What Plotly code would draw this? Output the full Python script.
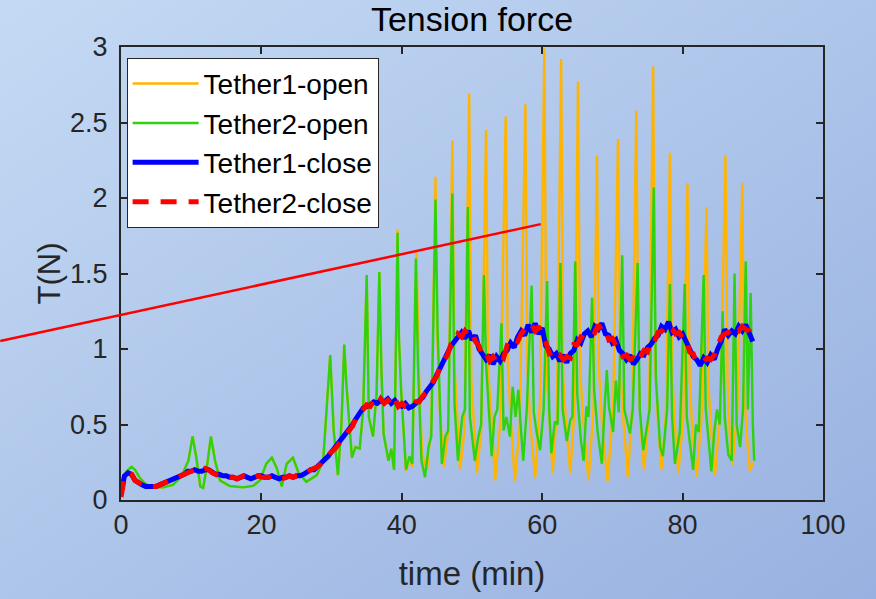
import base64
import plotly.graph_objects as go

# ---------------- data ----------------
# shared early part of both "open" tethers (they overlap until ~39 min)
t_open_early = [0.0, 0.3, 0.8, 1.5, 2.0, 2.7, 3.4, 4.1, 5.0, 6.0, 7.4, 8.6, 9.6, 10.2, 10.7,
                11.3, 11.7, 12.3, 12.8, 13.4, 14.1, 15.5, 17.4, 18.8, 19.8, 20.7, 21.5, 22.2,
                22.9, 23.6, 24.5, 25.3, 26.4, 27.9, 28.8, 29.3, 29.8, 30.3, 30.9, 31.4, 31.8,
                32.1, 32.9, 33.4, 34.0, 34.5, 35.0, 35.3, 35.9, 36.4, 36.8, 37.1, 37.4, 38.1,
                38.5, 38.9]
v_open_early = [0.12, 0.13, 0.19, 0.22, 0.20, 0.145, 0.11, 0.093, 0.085, 0.084, 0.10, 0.155,
                0.26, 0.42, 0.29, 0.09, 0.08, 0.24, 0.42, 0.26, 0.13, 0.093, 0.084, 0.093, 0.13,
                0.24, 0.28, 0.21, 0.09, 0.24, 0.28, 0.18, 0.12, 0.165, 0.26, 0.58, 0.96, 0.46,
                0.165, 0.50, 1.03, 0.77, 0.28, 0.35, 0.34, 0.60, 1.49, 0.55, 0.42, 0.70, 1.51,
                0.86, 0.44, 0.26, 0.34, 0.20]

t_open1_late = [39.4, 39.6, 39.9, 40.6, 41.1, 41.5, 42.1, 42.4, 42.9, 43.6, 44.2, 44.8, 45.0,
                45.4, 46.0, 46.6, 47.2, 47.5, 47.9, 48.3, 48.9, 49.6, 49.9, 50.3, 50.7, 51.3,
                52.0, 52.3, 52.7, 53.3, 54.0, 54.8, 55.1, 55.5, 56.1, 56.8, 57.6, 57.9, 58.3,
                59.0, 59.7, 60.3, 60.6, 61.0, 61.5, 62.1, 62.7, 63.0, 63.4, 64.0, 64.6, 65.1,
                65.4, 65.9, 66.6, 67.3, 67.8, 68.1, 68.6, 69.3, 70.1, 70.8, 71.1, 71.6, 72.2,
                72.8, 73.4, 73.7, 74.0, 74.5, 75.2, 75.8, 76.1, 76.5, 77.0, 77.6, 78.2, 78.5,
                78.9, 79.4, 80.1, 80.7, 81.0, 81.4, 82.0, 82.7, 83.4, 83.7, 84.1, 84.6, 85.4,
                86.1, 86.4, 86.7, 87.1, 87.8, 88.5, 88.8, 89.2, 89.6, 90.0]
v_open1_late = [1.79, 1.06, 0.73, 0.19, 0.28, 0.22, 1.64, 0.90, 0.30, 0.20, 0.50, 2.14, 1.16,
                0.60, 0.22, 0.45, 2.38, 0.90, 0.50, 0.20, 0.45, 2.69, 0.80, 0.45, 0.18, 0.45,
                2.45, 0.85, 0.60, 0.13, 0.50, 2.54, 0.90, 0.55, 0.12, 0.50, 2.62, 0.85, 0.50,
                0.145, 0.66, 2.99, 0.86, 0.55, 0.18, 0.60, 2.92, 0.80, 0.50, 0.18, 0.60, 2.77,
                0.85, 0.50, 0.13, 0.60, 2.28, 0.85, 0.45, 0.12, 0.60, 2.39, 0.90, 0.50, 0.15,
                0.60, 2.58, 0.90, 0.50, 0.20, 0.55, 2.87, 0.90, 0.50, 0.20, 0.55, 2.30, 0.85,
                0.50, 0.18, 0.55, 2.10, 0.80, 0.45, 0.15, 0.55, 1.94, 0.75, 0.45, 0.16, 0.60,
                2.28, 0.80, 0.45, 0.23, 0.60, 2.10, 0.70, 0.40, 0.19, 0.25]

t_open2_late = [39.4, 39.6, 39.9, 40.6, 41.1, 41.5, 42.0, 42.3, 42.8, 43.3, 43.8, 44.2, 44.8,
                45.1, 45.7, 46.2, 46.6, 47.2, 47.5, 48.0, 48.6, 49.0, 49.4, 49.7, 50.4, 50.9,
                51.3, 51.7, 52.0, 52.8, 53.2, 53.6, 54.2, 54.5, 54.9, 55.4, 55.8, 56.2, 56.6,
                57.0, 57.3, 57.8, 58.5, 58.8, 59.2, 59.7, 60.2, 60.7, 61.0, 61.3, 61.8, 62.2,
                62.6, 62.9, 63.5, 64.0, 64.3, 64.7, 65.0, 65.5, 65.9, 66.3, 66.6, 67.1, 67.4,
                67.9, 68.5, 68.9, 69.2, 69.5, 70.1, 70.5, 70.9, 71.4, 71.7, 72.5, 72.9, 73.6,
                73.9, 74.4, 74.8, 75.3, 75.9, 76.2, 76.8, 77.2, 77.8, 78.2, 78.5, 78.9, 79.6,
                80.3, 80.6, 81.5, 81.9, 82.3, 82.6, 83.0, 83.3, 84.1, 84.5, 84.9, 85.3, 85.7,
                86.0, 86.5, 87.0, 87.4, 87.7, 88.2, 88.6, 89.0, 89.3, 89.7, 90.0, 90.2]
v_open2_late = [1.77, 1.06, 0.73, 0.20, 0.29, 0.24, 1.60, 0.90, 0.26, 0.15, 0.35, 0.42, 1.99,
                1.13, 0.24, 0.42, 0.46, 2.03, 0.64, 0.26, 0.55, 0.60, 1.94, 0.55, 0.26, 0.42,
                0.50, 1.49, 0.90, 0.29, 0.55, 0.60, 1.17, 0.46, 0.55, 0.42, 0.75, 0.55, 0.73,
                0.45, 0.26, 0.60, 1.42, 0.58, 0.45, 0.33, 0.60, 1.45, 0.60, 0.31, 0.52, 0.50,
                1.57, 0.60, 0.39, 0.53, 0.55, 1.58, 0.70, 0.40, 0.26, 0.62, 0.55, 1.34, 0.73,
                0.45, 0.24, 0.62, 0.86, 0.62, 0.45, 0.79, 0.58, 1.62, 0.60, 0.44, 0.60, 1.57,
                0.60, 0.33, 0.46, 0.60, 2.07, 0.80, 0.35, 0.29, 0.60, 1.43, 0.55, 0.24, 0.45,
                1.43, 0.55, 0.20, 0.50, 0.45, 0.90, 1.49, 0.60, 0.19, 0.45, 0.60, 0.50, 1.25,
                0.55, 0.30, 0.26, 1.50, 0.50, 0.35, 0.60, 1.58, 0.60, 1.37, 0.50, 0.26]

t_close = [i * 0.5 for i in range(181)]
v_close1 = [0.05, 0.16, 0.18, 0.17, 0.13, 0.11, 0.10, 0.09, 0.09, 0.09, 0.09, 0.10, 0.11, 0.12,
            0.13, 0.14, 0.15, 0.16, 0.17, 0.19, 0.19, 0.20, 0.19, 0.19, 0.20, 0.20, 0.18, 0.17,
            0.17, 0.16, 0.16, 0.15, 0.15, 0.14, 0.15, 0.16, 0.15, 0.14, 0.15, 0.16, 0.16, 0.15,
            0.15, 0.16, 0.15, 0.14, 0.15, 0.15, 0.16, 0.15, 0.16, 0.16, 0.17, 0.19, 0.20, 0.20,
            0.22, 0.24, 0.26, 0.29, 0.32, 0.35, 0.38, 0.40, 0.43, 0.46, 0.50, 0.54, 0.57, 0.61,
            0.62, 0.63, 0.65, 0.64, 0.66, 0.65, 0.67, 0.64, 0.66, 0.63, 0.62, 0.64, 0.61, 0.62,
            0.64, 0.66, 0.68, 0.72, 0.75, 0.78, 0.83, 0.88, 0.92, 0.97, 1.02, 1.05, 1.08, 1.11,
            1.07, 1.12, 1.06, 1.09, 1.00, 0.97, 0.93, 0.96, 0.90, 0.95, 0.92, 0.97, 0.99, 1.04,
            1.01, 1.08, 1.12, 1.09, 1.16, 1.11, 1.17, 1.10, 1.14, 1.02, 1.00, 0.95, 0.97, 0.92,
            0.96, 0.91, 0.97, 0.99, 1.06, 1.04, 1.10, 1.12, 1.08, 1.15, 1.13, 1.17, 1.10, 1.09,
            1.04, 1.06, 0.99, 0.97, 0.93, 0.96, 0.90, 0.93, 0.97, 0.96, 1.01, 1.03, 1.07, 1.09,
            1.15, 1.13, 1.18, 1.11, 1.13, 1.08, 1.10, 1.05, 1.00, 0.95, 0.93, 0.89, 0.94, 0.91,
            0.96, 0.93, 1.00, 1.05, 1.13, 1.09, 1.12, 1.10, 1.15, 1.12, 1.16, 1.10, 1.05]
v_close2 = [0.02, 0.15, 0.18, 0.17, 0.13, 0.11, 0.10, 0.09, 0.09, 0.09, 0.09, 0.10, 0.11, 0.12,
            0.13, 0.14, 0.15, 0.16, 0.17, 0.18, 0.19, 0.20, 0.19, 0.19, 0.21, 0.20, 0.18, 0.17,
            0.16, 0.16, 0.16, 0.15, 0.15, 0.14, 0.15, 0.16, 0.15, 0.14, 0.15, 0.16, 0.15, 0.15,
            0.15, 0.16, 0.15, 0.14, 0.14, 0.15, 0.16, 0.15, 0.16, 0.16, 0.17, 0.18, 0.20, 0.21,
            0.22, 0.24, 0.27, 0.29, 0.32, 0.34, 0.37, 0.41, 0.43, 0.47, 0.49, 0.55, 0.56, 0.60,
            0.63, 0.62, 0.66, 0.63, 0.67, 0.64, 0.66, 0.63, 0.67, 0.62, 0.64, 0.62, 0.62, 0.61,
            0.65, 0.65, 0.69, 0.71, 0.76, 0.79, 0.82, 0.89, 0.93, 0.96, 1.03, 1.04, 1.10, 1.08,
            1.12, 1.09, 1.11, 1.05, 1.02, 0.95, 0.97, 0.92, 0.95, 0.92, 0.96, 0.94, 1.02, 1.01,
            1.06, 1.05, 1.10, 1.13, 1.12, 1.16, 1.12, 1.15, 1.09, 1.05, 0.97, 0.98, 0.94, 0.96,
            0.93, 0.95, 0.94, 1.03, 1.03, 1.08, 1.07, 1.10, 1.12, 1.11, 1.16, 1.12, 1.13, 1.06,
            1.07, 1.02, 1.01, 0.95, 0.96, 0.93, 0.94, 0.91, 0.95, 0.99, 0.98, 1.06, 1.05, 1.11,
            1.12, 1.10, 1.14, 1.13, 1.10, 1.11, 1.07, 1.07, 0.98, 0.97, 0.91, 0.92, 0.92, 0.94,
            0.93, 0.96, 1.02, 1.08, 1.10, 1.11, 1.09, 1.13, 1.12, 1.15, 1.13, 1.12, 1.04]

t_open1 = t_open_early + t_open1_late
v_open1 = v_open_early + v_open1_late
t_open2 = t_open_early + t_open2_late
v_open2 = v_open_early + v_open2_late

names = ["Tether1-open", "Tether2-open", "Tether1-close", "Tether2-close"]
x_ticks = [0, 20, 40, 60, 80, 100]
y_ticks = [0, 0.5, 1, 1.5, 2, 2.5, 3]

# red guide line, in paper coordinates (it runs out of the axes)
guide_x = [-0.172, 0.598]
guide_y = [0.351, 0.609]

# ---------------- figure ----------------
W, H = 876, 599
ML, MR, MT, MB = 121, 53, 47, 99
PW, PH = W - ML - MR, H - MT - MB

svg = ("<svg xmlns='http://www.w3.org/2000/svg' width='876' height='599'>"
       "<defs><linearGradient id='g' x1='0' y1='0' x2='1' y2='1'>"
       "<stop offset='0' stop-color='#c4daf4'/><stop offset='1' stop-color='#98b1e0'/>"
       "</linearGradient></defs><rect width='876' height='599' fill='url(#g)'/></svg>")
bg_uri = "data:image/svg+xml;base64," + base64.b64encode(svg.encode()).decode()

FONT = "Liberation Sans, Arial, sans-serif"
INK = "#262626"

fig = go.Figure()
fig.add_trace(go.Scatter(x=t_open1, y=v_open1, mode="lines", name=names[0],
                         line=dict(color="#ffb400", width=2.4)))
fig.add_trace(go.Scatter(x=t_open2, y=v_open2, mode="lines", name=names[1],
                         line=dict(color="#2fd20e", width=2.4)))
fig.add_trace(go.Scatter(x=t_close, y=v_close1, mode="lines", name=names[2],
                         line=dict(color="#0000ff", width=5)))
fig.add_trace(go.Scatter(x=t_close, y=v_close2, mode="lines", name=names[3],
                         line=dict(color="#ff0000", width=5, dash="16px,12px")))

fig.add_shape(type="line", xref="paper", yref="paper",
              x0=guide_x[0], y0=guide_y[0], x1=guide_x[1], y1=guide_y[1],
              line=dict(color="#ff0000", width=2.5), layer="above")

fig.add_layout_image(dict(source=bg_uri, xref="paper", yref="paper",
                          x=-ML / PW, y=1 + MT / PH, sizex=W / PW, sizey=H / PH,
                          xanchor="left", yanchor="top", sizing="stretch", layer="below"))

axis_common = dict(showgrid=False, zeroline=False, showline=True, linecolor=INK, linewidth=2,
                   mirror="ticks", ticks="inside", ticklen=7, tickwidth=1.5, tickcolor=INK,
                   tickfont=dict(family=FONT, size=27, color=INK))

fig.update_layout(
    width=W, height=H,
    margin=dict(l=ML, r=MR, t=MT, b=MB),
    paper_bgcolor="#b0c8ec", plot_bgcolor="white",
    title=dict(text="Tension force", x=(ML + PW / 2) / W, xanchor="center",
               y=1 - 19 / H, yanchor="middle",
               font=dict(family=FONT, size=34, color="black")),
    xaxis=dict(range=[0, 100], tickvals=x_ticks, ticktext=[str(v) for v in x_ticks],
               title=dict(text="time (min)", standoff=22,
                          font=dict(family=FONT, size=33, color=INK)),
               **axis_common),
    yaxis=dict(range=[0, 3], tickvals=y_ticks, ticktext=[f"{v:g}" for v in y_ticks],
               ticklabelstandoff=6,
               title=dict(text="T(N)", standoff=0,
                          font=dict(family=FONT, size=31, color=INK)),
               **axis_common),
    legend=dict(x=0.008, y=0.976, xanchor="left", yanchor="top",
                bgcolor="white", bordercolor=INK, borderwidth=1,
                font=dict(family=FONT, size=28, color="black"),
                itemwidth=66, tracegroupgap=0),
    showlegend=True,
)

fig.write_html("out.html")
